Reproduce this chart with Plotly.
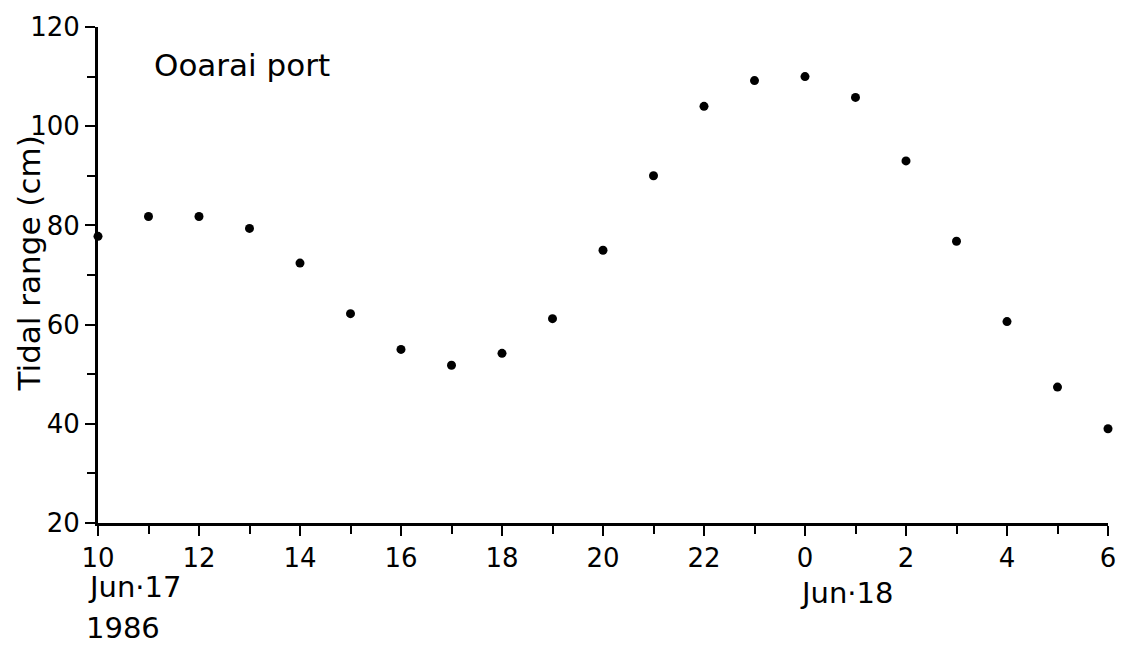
import plotly.graph_objects as go

# Hourly tidal range at Ooarai port, 10:00 Jun 17 to 06:00 Jun 18, 1986
hour_of_day = [10, 11, 12, 13, 14, 15, 16, 17, 18, 19, 20, 21, 22, 23,
               0, 1, 2, 3, 4, 5, 6]
tidal_range_cm = [77.8, 81.8, 81.8, 79.4, 72.4, 62.2, 55.0, 51.8, 54.2, 61.2,
                  75.0, 90.0, 104.0, 109.2, 110.0, 105.8, 93.0, 76.8, 60.6,
                  47.4, 39.0]

x_tick_labels = ["10", "12", "14", "16", "18", "20", "22", "0", "2", "4", "6"]
y_tick_values = [20, 40, 60, 80, 100, 120]
y_minor_values = [30, 50, 70, 90, 110]

# elapsed hours since the first reading
elapsed = list(range(len(hour_of_day)))
major_x = list(range(0, len(hour_of_day), 2))
minor_x = list(range(1, len(hour_of_day), 2))

FONT = "DejaVu Sans"

fig = go.Figure()
fig.add_trace(go.Scatter(
    x=elapsed,
    y=tidal_range_cm,
    mode="markers",
    marker=dict(color="black", size=9),
    cliponaxis=False,
    customdata=hour_of_day,
    hovertemplate="%{customdata}h: %{y} cm<extra></extra>",
    showlegend=False,
))

axis_common = dict(
    showgrid=False,
    zeroline=False,
    showline=True,
    linecolor="black",
    linewidth=3,
    ticks="outside",
    ticklen=10,
    tickwidth=2,
    tickcolor="black",
    tickfont=dict(family=FONT, size=26, color="black"),
)

fig.update_xaxes(
    range=[0, len(hour_of_day) - 1],
    tickmode="array",
    tickvals=major_x,
    ticktext=x_tick_labels,
    minor=dict(tickvals=minor_x, ticks="outside", ticklen=8, tickwidth=2,
               tickcolor="black"),
    **axis_common,
)
fig.update_yaxes(
    range=[20, 120],
    tickmode="array",
    tickvals=y_tick_values,
    minor=dict(tickvals=y_minor_values, ticks="outside", ticklen=8,
               tickwidth=2, tickcolor="black"),
    **axis_common,
)

title_font = dict(family=FONT, size=31, color="black")
date_font = dict(family=FONT, size=29, color="black")

fig.add_annotation(text="Ooarai port", x=1.07, y=112.4, xref="x", yref="y",
                   xanchor="left", yanchor="middle", showarrow=False,
                   font=title_font)
fig.add_annotation(text="Tidal range (cm)", x=-0.068, y=72.4, xref="paper",
                   yref="y", textangle=-90, xanchor="center",
                   yanchor="middle", showarrow=False, font=title_font)
fig.add_annotation(text="Jun·17", x=-0.012, y=-0.13, xref="paper",
                   yref="paper", xanchor="left", yanchor="middle",
                   showarrow=False, font=date_font)
fig.add_annotation(text="1986", x=-0.014, y=-0.2116, xref="paper",
                   yref="paper", xanchor="left", yanchor="middle",
                   showarrow=False, font=date_font)
fig.add_annotation(text="Jun·18", x=0.693, y=-0.1417, xref="paper",
                   yref="paper", xanchor="left", yanchor="middle",
                   showarrow=False, font=date_font)

fig.update_layout(
    width=1133,
    height=645,
    margin=dict(l=98, r=25, t=22, b=122),
    paper_bgcolor="white",
    plot_bgcolor="white",
)

fig.write_html("out.html")
